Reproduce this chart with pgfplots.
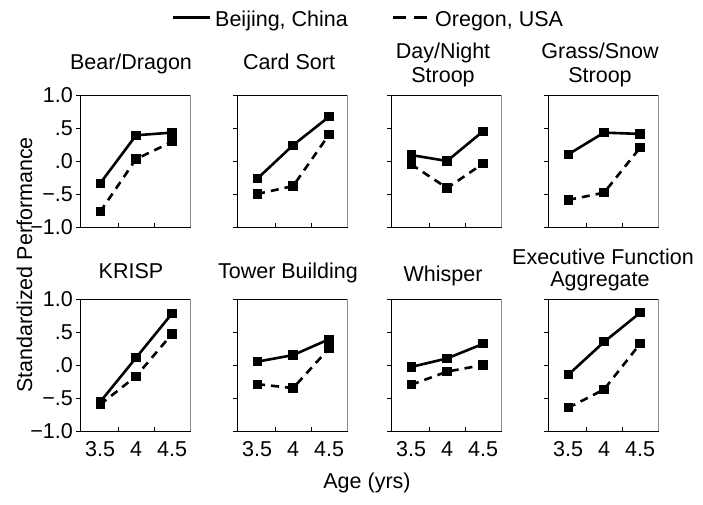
\documentclass[border=0pt]{standalone}
\usepackage{fontspec}
\setmainfont{Liberation Sans}
\usepackage{pgfplots}
\pgfplotsset{compat=1.18}
\newcommand\ff{\fontsize{21.5bp}{24bp}\selectfont}
\pgfplotsset{
  panel/.style={
    scale only axis, width=110bp, height=132bp,
    xmin=3.22, xmax=4.75, ymin=-1, ymax=1,
    xtick={3.5,4,4.5}, xticklabels={},
    minor xtick={3.75,4.25},
    ytick={-1,-0.5,0,0.5,1}, yticklabels={},
    xtick pos=bottom, ytick pos=left,
    xtick align=inside, ytick align=outside,
    major x tick style={draw=none},
    minor x tick style={black, line width=0.7bp},
    major tick length=4bp, minor tick length=4bp,
    ytick style={black, line width=0.7bp},
    axis line style={black, line width=0.8bp},
    tick label style={font=\ff},
    /pgf/number format/assume math mode=true,
    clip=false,
    after end axis/.code={\draw[black!45, line width=0.7bp] (rel axis cs:1,0) -- (rel axis cs:1,1);},
  },
  bottomrow/.style={xticklabels={3.5,4,4.5},
    xticklabel style={anchor=base, inner sep=0pt, yshift=-26bp}},
  firstcol/.style={yticklabels={−1.0,−.5,.0,.5,1.0},
    yticklabel style={anchor=east, inner sep=0pt, xshift=-3bp}},
  beij/.style={black, solid, line width=2.6bp, mark=square*, mark size=3.3bp, mark options={solid}},
  oreg/.style={black, line width=2.6bp, dash pattern=on 8bp off 6bp, mark=square*, mark size=3.3bp, mark options={solid}},
}
\begin{document}
\begin{tikzpicture}
\useasboundingbox (0,0) rectangle (703bp,505bp);
% ---- top row ----
\begin{axis}[panel, firstcol, at={(80bp,278bp)}]
\addplot[beij] coordinates {(3.5,-0.34) (4,0.39) (4.5,0.43)};
\addplot[oreg] coordinates {(3.5,-0.77) (4,0.03) (4.5,0.29)};
\end{axis}
\begin{axis}[panel, at={(237bp,278bp)}]
\addplot[beij] coordinates {(3.5,-0.27) (4,0.24) (4.5,0.67)};
\addplot[oreg] coordinates {(3.5,-0.50) (4,-0.38) (4.5,0.40)};
\end{axis}
\begin{axis}[panel, at={(391bp,278bp)}]
\addplot[beij] coordinates {(3.5,0.09) (4,0.00) (4.5,0.45)};
\addplot[oreg] coordinates {(3.5,-0.05) (4,-0.41) (4.5,-0.04)};
\end{axis}
\begin{axis}[panel, at={(548bp,278bp)}]
\addplot[beij] coordinates {(3.5,0.10) (4,0.43) (4.5,0.41)};
\addplot[oreg] coordinates {(3.5,-0.59) (4,-0.48) (4.5,0.20)};
\end{axis}
% ---- bottom row ----
\begin{axis}[panel, firstcol, bottomrow, at={(80bp,74bp)}]
\addplot[beij] coordinates {(3.5,-0.56) (4,0.11) (4.5,0.78)};
\addplot[oreg] coordinates {(3.5,-0.60) (4,-0.17) (4.5,0.47)};
\end{axis}
\begin{axis}[panel, bottomrow, at={(237bp,74bp)}]
\addplot[beij] coordinates {(3.5,0.05) (4,0.15) (4.5,0.39)};
\addplot[oreg] coordinates {(3.5,-0.29) (4,-0.35) (4.5,0.25)};
\end{axis}
\begin{axis}[panel, bottomrow, at={(391bp,74bp)}]
\addplot[beij] coordinates {(3.5,-0.03) (4,0.10) (4.5,0.32)};
\addplot[oreg] coordinates {(3.5,-0.30) (4,-0.10) (4.5,0.00)};
\end{axis}
\begin{axis}[panel, bottomrow, at={(548bp,74bp)}]
\addplot[beij] coordinates {(3.5,-0.15) (4,0.35) (4.5,0.79)};
\addplot[oreg] coordinates {(3.5,-0.65) (4,-0.37) (4.5,0.32)};
\end{axis}
% ---- legend ----
\fill[black] (173bp,485.5bp) rectangle (210bp,488.7bp);
\fill[black] (393bp,485.5bp) rectangle (406bp,488.7bp);
\fill[black] (414bp,485.5bp) rectangle (427bp,488.7bp);
% ---- titles ----
\begin{scope}[every node/.style={font=\ff, anchor=base, inner sep=0pt}]
\node[anchor=base west] at (215bp,478bp) {Beijing, China};
\node[anchor=base west] at (435bp,478bp) {Oregon, USA};
\node at (131bp,435bp) {Bear/Dragon};
\node at (289bp,435bp) {Card Sort};
\node at (443bp,446bp) {Day/Night};
\node at (443bp,422bp) {Stroop};
\node at (600bp,446bp) {Grass/Snow};
\node at (600bp,422bp) {Stroop};
\node at (131bp,226bp) {KRISP};
\node at (288bp,226bp) {Tower Building};
\node at (443bp,223bp) {Whisper};
\node at (603bp,240bp) {Executive Function};
\node at (600bp,218bp) {Aggregate};
\node at (367bp,17bp) {Age (yrs)};
\node[rotate=90] at (32bp,240bp) {Standardized Performance};
\end{scope}
\end{tikzpicture}
\end{document}
